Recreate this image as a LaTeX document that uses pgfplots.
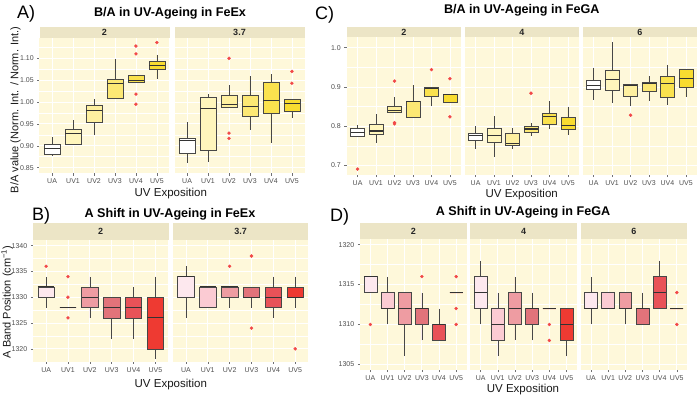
\documentclass[border=0pt]{standalone}
\usepackage{fontspec}
\setmainfont{Liberation Sans}
\usepackage{pgfplots}
\pgfplotsset{compat=1.18}
\usepgfplotslibrary{statistics}

\definecolor{panelbg}{HTML}{FEF8DA}
\definecolor{stripbg}{HTML}{ECE5C6}
\definecolor{boxline}{HTML}{474747}
\definecolor{outred}{HTML}{F24848}
\definecolor{tickgray}{HTML}{4D4D4D}
% yellow fills (B/A), UA ... UV5
\definecolor{ya}{HTML}{FFFFFF}
\definecolor{yb}{HTML}{FFF6BC}
\definecolor{yc}{HTML}{FEF0A0}
\definecolor{yd}{HTML}{FCE874}
\definecolor{ye}{HTML}{FAE24E}
\definecolor{yf}{HTML}{F8DC30}
% red fills (A shift), UA ... UV5
\definecolor{ra}{HTML}{FDE8EE}
\definecolor{rb}{HTML}{FBCBD3}
\definecolor{rc}{HTML}{EE9CA2}
\definecolor{rd}{HTML}{E2737A}
\definecolor{re}{HTML}{E85258}
\definecolor{rf}{HTML}{EE3A32}

\pgfplotsset{
  facet/.style={
    scale only axis, anchor=north west,
    xmin=-0.6, xmax=5.6, xtick={0,...,5},
    xticklabels={UA,UV1,UV2,UV3,UV4,UV5},
    axis x line*=bottom, axis y line*=left,
    axis line style={draw=none},
    axis background/.style={fill=panelbg},
    grid=both,
    major grid style={white, line width=0.8pt},
    minor grid style={white, line width=0.4pt},
    tick align=outside, major tick length=2.2pt, minor tick length=0pt,
    major tick style={tickgray!80, line width=0.5pt},
    tick label style={font=\fontsize{7}{8}\selectfont, text=tickgray},
    /pgf/number format/assume math mode=true,
    /pgf/number format/1000 sep={},
    boxplot/draw direction=y,
    boxplot/every median/.style={line width=1.1pt, draw=black!80},
    boxplot/box extend=0.75,
  },
  inner/.style={yticklabels={}, ytick style={draw=none}},
  baA/.style={ymin=0.837, ymax=1.1475, ytick={0.85,0.9,0.95,1,1.05,1.1},
    minor ytick={0.875,0.925,0.975,1.025,1.075,1.125},
    yticklabel style={/pgf/number format/.cd, fixed, fixed zerofill, precision=2},
    width=130pt, height=135.8pt},
  baC/.style={ymin=0.676, ymax=1.027, ytick={0.7,0.8,0.9,1.0},
    minor ytick={0.75,0.85,0.95},
    yticklabel style={/pgf/number format/.cd, fixed, fixed zerofill, precision=1},
    width=114.5pt, height=138pt},
  shB/.style={ymin=1317.5, ymax=1341.1, ytick={1320,1325,1330,1335,1340},
    minor ytick={1322.5,1327.5,1332.5,1337.5},
    width=135.5pt, height=121.7pt},
  shD/.style={ymin=1304.3, ymax=1320.7, ytick={1305,1310,1315,1320},
    minor ytick={1307.5,1312.5,1317.5},
    width=106.5pt, height=131pt},
}

% one box: position, lower whisker, lower quartile, median, upper quartile, upper whisker, fill
\newcommand\bx[7]{\addplot[draw=boxline, fill=#7, line width=0.5pt,
  boxplot prepared={draw position=#1, lower whisker=#2, lower quartile=#3,
  median=#4, upper quartile=#5, upper whisker=#6, whisker extend=0}] coordinates {};}
% outlying points
\newcommand\ol[1]{\addplot[only marks, mark=*, mark size=1.5pt, color=outred] coordinates {#1};}
% facet strip: x left, x right, y top, y bottom, label
\newcommand\strip[5]{\fill[stripbg] (#1pt,-#3pt) rectangle (#2pt,-#4pt);
  \node[font=\bfseries\fontsize{9}{10}\selectfont, text=black!85] at ({(#1+#2)/2*1pt},{-(#3+#4)/2*1pt}) {#5};}

\begin{document}
\begin{tikzpicture}

% ---------------- A) B/A, FeEx ----------------
\begin{axis}[facet, baA, at={(39.5pt,-37.5pt)}]
\bx{0}{0.877}{0.880}{0.893}{0.903}{0.919}{ya}
\bx{1}{0.904}{0.904}{0.928}{0.938}{0.958}{yb}
\bx{2}{0.925}{0.954}{0.981}{0.993}{1.007}{yc}
\bx{3}{1.009}{1.009}{1.043}{1.052}{1.098}{yd}
\bx{4}{1.045}{1.045}{1.050}{1.061}{1.061}{ye}
\bx{5}{1.053}{1.074}{1.084}{1.093}{1.108}{yf}
\ol{(4,1.128) (4,1.110) (4,1.018) (4,0.995) (5,1.136)}
\end{axis}
\begin{axis}[facet, baA, inner, at={(174.5pt,-37.5pt)}]
\bx{0}{0.860}{0.883}{0.9125}{0.917}{0.954}{ya}
\bx{1}{0.863}{0.890}{0.986}{1.011}{1.018}{yb}
\bx{2}{0.988}{0.988}{0.994}{1.015}{1.038}{yc}
\bx{3}{0.937}{0.967}{0.990}{1.015}{1.060}{yd}
\bx{4}{0.906}{0.9735}{1.004}{1.045}{1.063}{ye}
\bx{5}{0.964}{0.980}{0.996}{1.006}{1.006}{yf}
\ol{(2,1.100) (2,0.929) (2,0.917) (5,1.070) (5,1.043)}
\end{axis}
\strip{39.5}{169.5}{27}{37.5}{2}
\strip{174.5}{304.5}{27}{37.5}{3.7}

% ---------------- C) B/A, FeGA ----------------
\begin{axis}[facet, baC, at={(346.5pt,-37pt)}]
\bx{0}{0.774}{0.774}{0.784}{0.795}{0.802}{ya}
\bx{1}{0.757}{0.779}{0.788}{0.806}{0.831}{yb}
\bx{2}{0.835}{0.835}{0.841}{0.851}{0.874}{yc}
\bx{3}{0.824}{0.824}{0.863}{0.864}{0.905}{yd}
\bx{4}{0.851}{0.877}{0.897}{0.899}{0.899}{ye}
\bx{5}{0.858}{0.862}{0.880}{0.8815}{0.8815}{yf}
\ol{(0,0.691) (2,0.915) (2,0.809) (2,0.806) (4,0.944) (5,0.921) (5,0.824)}
\end{axis}
\begin{axis}[facet, baC, inner, at={(464.5pt,-37pt)}]
\bx{0}{0.743}{0.765}{0.7775}{0.783}{0.800}{ya}
\bx{1}{0.721}{0.760}{0.777}{0.796}{0.825}{yb}
\bx{2}{0.743}{0.751}{0.757}{0.783}{0.796}{yc}
\bx{3}{0.775}{0.784}{0.793}{0.800}{0.809}{yd}
\bx{4}{0.794}{0.806}{0.825}{0.833}{0.863}{ye}
\bx{5}{0.779}{0.792}{0.802}{0.823}{0.848}{yf}
\ol{(3,0.884)}
\end{axis}
\begin{axis}[facet, baC, inner, at={(582.5pt,-37pt)}]
\bx{0}{0.868}{0.893}{0.903}{0.917}{0.947}{ya}
\bx{1}{0.858}{0.892}{0.920}{0.942}{1.014}{yb}
\bx{2}{0.851}{0.876}{0.903}{0.907}{0.907}{yc}
\bx{3}{0.863}{0.890}{0.909}{0.913}{0.928}{yd}
\bx{4}{0.854}{0.875}{0.908}{0.926}{0.956}{ye}
\bx{5}{0.875}{0.899}{0.921}{0.944}{0.945}{yf}
\ol{(2,0.828)}
\end{axis}
\strip{346.5}{461}{27}{37}{2}
\strip{464.5}{579}{27}{37}{4}
\strip{582.5}{697}{27}{37}{6}

% ---------------- B) A shift, FeEx ----------------
\begin{axis}[facet, shB, at={(33pt,-240pt)}]
\bx{0}{1328}{1330}{1332}{1332}{1334}{ra}
\bx{1}{1328}{1328}{1328}{1328}{1328}{rb}
\bx{2}{1326}{1328}{1330}{1332}{1334}{rc}
\bx{3}{1322}{1326}{1328}{1330}{1330}{rd}
\bx{4}{1322}{1326}{1328}{1330}{1332}{re}
\bx{5}{1318}{1320}{1326}{1330}{1334}{rf}
\ol{(0,1336) (1,1334) (1,1330) (1,1326)}
\end{axis}
\begin{axis}[facet, shB, inner, at={(172.8pt,-240pt)}]
\bx{0}{1326}{1330}{1334}{1334}{1336}{ra}
\bx{1}{1328}{1328}{1332}{1332}{1332}{rb}
\bx{2}{1328}{1330}{1332}{1332}{1332}{rc}
\bx{3}{1328}{1330}{1330}{1332}{1332}{rd}
\bx{4}{1326}{1328}{1330}{1332}{1334}{re}
\bx{5}{1328}{1330}{1330}{1332}{1334}{rf}
\ol{(2,1336) (3,1338) (3,1324) (5,1320)}
\end{axis}
\strip{33}{168.5}{223}{240}{2}
\strip{172.8}{308.3}{223}{240}{3.7}

% ---------------- D) A shift, FeGA ----------------
\begin{axis}[facet, shD, at={(360pt,-239pt)}]
\bx{0}{1314}{1314}{1316}{1316}{1316}{ra}
\bx{1}{1310}{1312}{1312}{1314}{1316}{rb}
\bx{2}{1306}{1310}{1312}{1314}{1314}{rc}
\bx{3}{1308}{1310}{1312}{1312}{1314}{rd}
\bx{4}{1308}{1308}{1310}{1310}{1312}{re}
\bx{5}{1314}{1314}{1314}{1314}{1314}{rf}
\ol{(0,1310) (3,1316) (5,1316) (5,1312) (5,1310)}
\end{axis}
\begin{axis}[facet, shD, inner, at={(470.3pt,-239pt)}]
\bx{0}{1310}{1312}{1314}{1316}{1318}{ra}
\bx{1}{1306}{1308}{1310}{1312}{1314}{rb}
\bx{2}{1308}{1310}{1312}{1314}{1316}{rc}
\bx{3}{1308}{1310}{1312}{1312}{1314}{rd}
\bx{4}{1312}{1312}{1312}{1312}{1312}{re}
\bx{5}{1306}{1308}{1310}{1312}{1312}{rf}
\ol{(4,1310) (4,1308)}
\end{axis}
\begin{axis}[facet, shD, inner, at={(580.6pt,-239pt)}]
\bx{0}{1310}{1312}{1312}{1314}{1316}{ra}
\bx{1}{1312}{1312}{1312}{1314}{1314}{rb}
\bx{2}{1310}{1312}{1312}{1314}{1314}{rc}
\bx{3}{1310}{1310}{1312}{1312}{1314}{rd}
\bx{4}{1312}{1312}{1314}{1316}{1318}{re}
\bx{5}{1312}{1312}{1312}{1312}{1312}{rf}
\ol{(5,1314) (5,1310)}
\end{axis}
\strip{360}{466.5}{223}{239}{2}
\strip{470.3}{576.8}{223}{239}{4}
\strip{580.6}{687.1}{223}{239}{6}

% ---------------- titles, panel letters, axis labels ----------------
\tikzset{lett/.style={font=\fontsize{18}{20}\selectfont, anchor=base west, inner sep=0pt},
  ttl/.style={font=\bfseries\fontsize{12.6}{14}\selectfont, anchor=base, inner sep=0pt},
  xl/.style={font=\fontsize{11.5}{13}\selectfont, anchor=base, inner sep=0pt, text=black!90},
  yl/.style={font=\fontsize{11}{13}\selectfont, anchor=base, rotate=90, inner sep=0pt, text=black!90}}
\node[lett] at (17pt,-18.3pt) {A)};
\node[lett] at (315pt,-19.5pt) {C)};
\node[lett] at (32pt,-220pt) {B)};
\node[lett] at (330pt,-221.5pt) {D)};
\node[ttl] at (170pt,-16.7pt) {B/A in UV-Ageing in FeEx};
\node[ttl] at (521.7pt,-13.5pt) {B/A in UV-Ageing in FeGA};
\node[ttl] at (170pt,-217.8pt) {A Shift in UV-Ageing in FeEx};
\node[ttl] at (523pt,-215.7pt) {A Shift in UV-Ageing in FeGA};
\node[xl] at (170.8pt,-196.7pt) {UV Exposition};
\node[xl] at (521.7pt,-197.3pt) {UV Exposition};
\node[xl] at (170.8pt,-387.7pt) {UV Exposition};
\node[xl] at (523pt,-392.3pt) {UV Exposition};
\node[yl] at (18.3pt,-110pt) {B/A value (Norm. Int. / Norm. Int.)};
\node[yl] at (10.5pt,-302pt) {A Band Position (cm\textsuperscript{\char"2212 1})};

\pgfresetboundingbox
\path[use as bounding box] (0,0) rectangle (700pt,-397pt);
\end{tikzpicture}
\end{document}
